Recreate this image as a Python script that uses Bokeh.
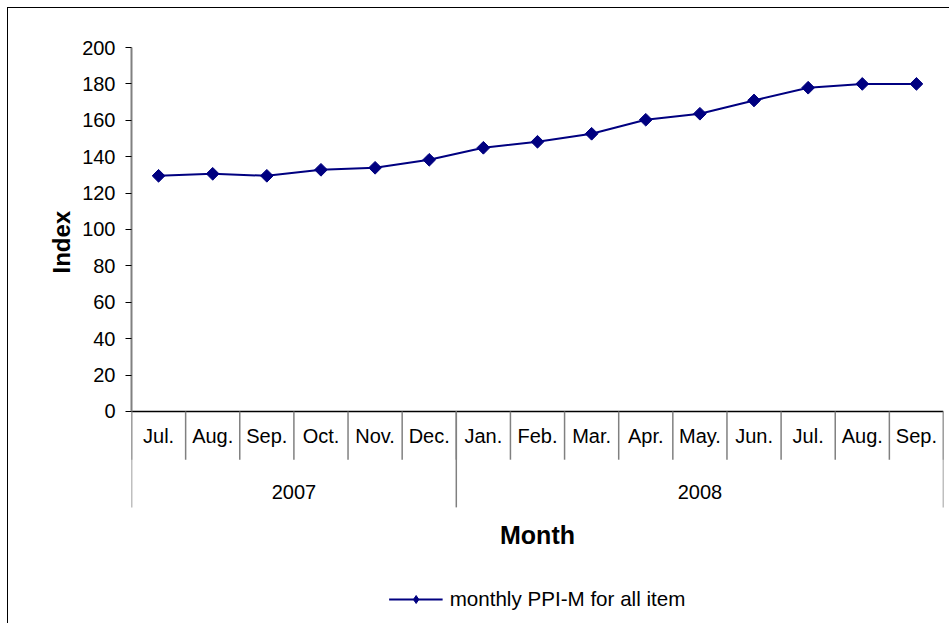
from bokeh.plotting import figure
from bokeh.models import (FactorRange, Range1d, LinearAxis, FixedTicker, ColumnDataSource,
                          Title, Legend, LegendItem, Label)
from bokeh.core.properties import value
from bokeh.embed import file_html
from bokeh.resources import INLINE
import numpy as np

# ---- data ----
years = ["2007"] * 6 + ["2008"] * 9
months = ["Jul.", "Aug.", "Sep.", "Oct.", "Nov.", "Dec.",
          "Jan.", "Feb.", "Mar.", "Apr.", "May.", "Jun.", "Jul.", "Aug.", "Sep."]
ppi = [129.5, 130.6, 129.5, 132.8, 133.9, 138.3, 144.9, 148.2,
       152.6, 160.3, 163.6, 170.9, 177.9, 180.0, 180.0]
year_labels = ["2007", "2008"]
y_ticks = [0, 20, 40, 60, 80, 100, 120, 140, 160, 180, 200]
series_name = "monthly PPI-M for all item"
y_title = "Index"
x_title = "Month"

# ---- style / layout constants ----
FONT = "Liberation Sans"
NAVY = "#000080"
GREY = "#808080"
FRAME_BOTTOM = -116.5   # data units: bottom of the drawing area
BAND_BOTTOM = -52.7     # bottom of the category band
MONTH_ROW = -13.2
YEAR_ROW = -44.3
MONTH_SEP = -26.5
TITLE_ROW = -68.1

factors = list(zip(years, months))
x_range = FactorRange(factors=factors, factor_padding=0, group_padding=0,
                      subgroup_padding=0, range_padding=0)

p = figure(frame_width=812, frame_height=576, x_range=x_range,
           y_range=Range1d(FRAME_BOTTOM, max(y_ticks)),
           output_backend="svg", toolbar_location=None,
           x_axis_location=None, y_axis_location=None,
           min_border_left=123, min_border_right=6, min_border_top=39,
           min_border_bottom=0)
p.xgrid.visible = False
p.ygrid.visible = False
p.outline_line_color = None
p.background_fill_color = "white"
p.border_fill_color = "white"
# chart-area border (its right and bottom edges lie outside the window)
p.styles = {"border-left": "1px solid black", "border-top": "1px solid black",
            "margin-left": "7px", "margin-top": "7px"}

# range used only by the legend-key renderer (its points fall outside the frame)
p.extra_y_ranges = {"key": Range1d(start=max(y_ticks) * 10, end=max(y_ticks) * 20)}

# y axis
yaxis = LinearAxis(bounds=(min(y_ticks), max(y_ticks)), ticker=FixedTicker(ticks=y_ticks))
yaxis.axis_line_color = GREY
yaxis.axis_line_width = 2
yaxis.major_tick_line_color = "black"
yaxis.major_tick_out = 6
yaxis.major_tick_in = 0
yaxis.minor_tick_line_color = None
yaxis.major_label_text_font = FONT
yaxis.major_label_text_font_size = "20px"
yaxis.major_label_text_color = "black"
yaxis.major_label_standoff = 10
p.add_layout(yaxis, "left")

p.add_layout(Title(text=y_title, align="left", offset=350, text_font=FONT,
                   text_font_size="24px", text_font_style="bold",
                   text_color="black"), "left")

# category band: zero line, separators, labels
n = len(factors)
p.segment(x0=[0], x1=[n], y0=[0], y1=[0], line_color="black", line_width=1.5)

bounds = list(range(n + 1))
p.segment(x0=bounds, x1=bounds, y0=[0] * len(bounds), y1=[MONTH_SEP] * len(bounds),
          line_color=GREY, line_width=1.5)
year_bounds = [0]
for i in range(1, n):
    if years[i] != years[i - 1]:
        year_bounds.append(i)
year_bounds.append(n)
p.segment(x0=year_bounds, x1=year_bounds, y0=[0] * len(year_bounds),
          y1=[BAND_BOTTOM] * len(year_bounds), line_color=GREY, line_width=1.5)

msrc = ColumnDataSource(dict(x=factors, y=[MONTH_ROW] * n, t=months))
p.text(x="x", y="y", text="t", source=msrc, text_font=value(FONT), text_font_size="20px",
       text_align="center", text_baseline="middle", text_color="black")
ysrc = ColumnDataSource(dict(x=year_labels, y=[YEAR_ROW] * len(year_labels), t=year_labels))
p.text(x="x", y="y", text="t", source=ysrc, text_font=value(FONT), text_font_size="20px",
       text_align="center", text_baseline="middle", text_color="black")

p.add_layout(Label(x=n / 2, y=TITLE_ROW, text=x_title, text_align="center",
                   text_baseline="middle", text_font=FONT, text_font_size="25px",
                   text_font_style="bold", text_color="black"))

# data
src = ColumnDataSource(dict(x=factors, y=ppi))
ln = p.line(x="x", y="y", source=src, line_color=NAVY, line_width=2)
mk = p.scatter(x="x", y="y", source=src, marker="square", angle=np.pi / 4, size=9,
               fill_color=NAVY, line_color=NAVY)
# legend swatch: a diamond renderer of the same data mapped to the off-frame range
key = p.scatter(x="x", y="y", source=src, y_range_name="key",
                marker="diamond", size=13, fill_color=NAVY, line_color=NAVY)

legend = Legend(items=[LegendItem(label=series_name, renderers=[ln, key])],
                location="bottom_center", orientation="horizontal",
                border_line_color=None, background_fill_alpha=0,
                label_text_font=FONT, label_text_font_size="20.6px",
                label_text_color="black",
                glyph_width=54, glyph_height=20, label_standoff=7,
                margin=12, padding=0)
p.add_layout(legend)

open("out.html", "w").write(file_html(p, INLINE))
